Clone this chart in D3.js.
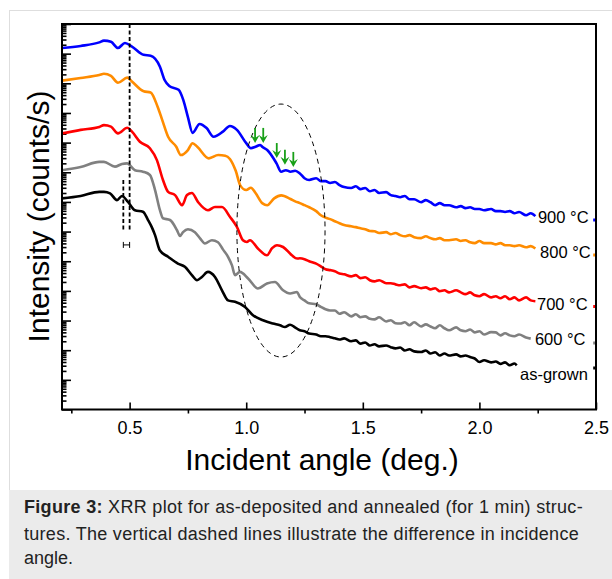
<!DOCTYPE html>
<html>
<head>
<meta charset="utf-8">
<script src="https://cdnjs.cloudflare.com/ajax/libs/d3/7.8.5/d3.min.js"></script>
<style>
    body { margin: 0; background: #fff; }
    svg { display: block; font-family: "Liberation Sans", Arial, Helvetica, sans-serif; }
</style>
</head>
<body>
<svg id="chart" width="612" height="579"></svg>
<script>
// [incident angle (deg.), log10 intensity (counts/s)]
var asGrown = [[0.21,7.12],[0.29,7.20],[0.37,7.34],[0.39,7.34],[0.416,7.29],[0.446,7.06],[0.467,7.20],[0.493,7.00],[0.523,6.72],[0.557,6.67],[0.579,6.39],[0.595,6.15],[0.609,5.88],[0.63,5.36],[0.665,5.15],[0.707,4.92],[0.737,4.81],[0.767,4.53],[0.789,4.36],[0.81,4.47],[0.836,4.64],[0.866,4.47],[0.896,4.02],[0.922,3.68],[0.952,3.63],[0.995,3.46],[1.029,3.18],[1.072,3.01],[1.115,2.90],[1.145,2.84],[1.166,2.78],[1.188,2.86],[1.209,2.77],
    [1.23,2.67],[1.25,2.64],[1.27,2.56],[1.30,2.53],[1.32,2.47],[1.34,2.47],[1.36,2.44],[1.38,2.40],[1.40,2.36],[1.42,2.40],[1.45,2.30],[1.47,2.33],[1.49,2.22],[1.51,2.26],[1.53,2.16],[1.55,2.20],[1.57,2.13],[1.60,2.16],[1.62,2.10],[1.64,2.06],[1.66,2.09],[1.68,1.99],[1.70,2.03],[1.72,1.96],[1.75,1.94],[1.77,1.99],[1.79,1.89],[1.81,1.93],[1.83,1.82],[1.85,1.89],[1.87,1.82],[1.90,1.86],[1.92,1.79],[1.94,1.82],[1.96,1.77],[1.98,1.72],[2.00,1.60],[2.02,1.66],[2.05,1.59],[2.07,1.62],[2.09,1.54],[2.11,1.59],[2.13,1.49],[2.15,1.55],[2.16,1.49]];

var t600 = [[0.21,8.07],[0.29,8.18],[0.37,8.35],[0.39,8.35],[0.437,8.19],[0.467,8.28],[0.489,8.30],[0.523,8.07],[0.557,8.02],[0.587,7.91],[0.609,7.40],[0.63,6.72],[0.643,6.45],[0.673,6.39],[0.703,6.05],[0.716,5.85],[0.729,5.98],[0.75,6.08],[0.78,5.98],[0.802,5.77],[0.823,5.60],[0.853,5.71],[0.879,5.64],[0.90,5.40],[0.922,5.15],[0.939,4.86],[0.952,4.53],[0.973,4.64],[1.008,4.42],[1.05,4.08],[1.089,4.25],[1.123,4.30],[1.158,4.02],[1.188,3.91],[1.218,3.96],
    [1.23,3.79],[1.25,3.68],[1.27,3.58],[1.30,3.55],[1.32,3.46],[1.34,3.38],[1.36,3.34],[1.38,3.34],[1.40,3.23],[1.42,3.28],[1.45,3.14],[1.47,3.21],[1.49,3.11],[1.51,3.14],[1.53,3.06],[1.55,3.04],[1.57,3.11],[1.60,2.97],[1.62,3.01],[1.64,2.91],[1.66,2.90],[1.68,2.94],[1.70,2.84],[1.72,2.94],[1.75,2.80],[1.77,2.87],[1.79,2.80],[1.81,2.74],[1.83,2.84],[1.85,2.74],[1.87,2.67],[1.90,2.77],[1.92,2.67],[1.94,2.64],[1.96,2.70],[1.98,2.60],[2.00,2.64],[2.02,2.53],[2.05,2.61],[2.07,2.60],[2.09,2.50],[2.11,2.57],[2.13,2.50],[2.15,2.47],[2.17,2.53],[2.20,2.43],[2.22,2.39]];

var t700 = [[0.21,9.31],[0.29,9.43],[0.37,9.53],[0.39,9.59],[0.42,9.54],[0.45,9.31],[0.49,9.50],[0.51,9.37],[0.544,9.03],[0.587,8.81],[0.617,8.41],[0.643,7.74],[0.665,7.34],[0.695,7.23],[0.725,6.89],[0.746,7.23],[0.767,7.30],[0.793,7.00],[0.836,6.72],[0.866,6.83],[0.896,6.83],[0.93,6.50],[0.96,6.16],[0.986,5.71],[1.003,5.65],[1.016,5.71],[1.05,5.43],[1.089,5.20],[1.111,5.44],[1.132,5.54],[1.158,5.48],[1.196,5.20],[1.218,5.09],
    [1.23,5.10],[1.25,5.07],[1.27,5.00],[1.30,4.92],[1.32,4.83],[1.34,4.73],[1.36,4.70],[1.38,4.66],[1.40,4.59],[1.42,4.56],[1.45,4.49],[1.47,4.53],[1.49,4.43],[1.51,4.46],[1.53,4.36],[1.55,4.32],[1.57,4.36],[1.60,4.26],[1.62,4.26],[1.64,4.22],[1.66,4.19],[1.68,4.22],[1.70,4.12],[1.72,4.16],[1.75,4.09],[1.77,4.12],[1.79,4.05],[1.81,4.09],[1.83,3.99],[1.85,4.02],[1.87,3.95],[1.90,4.02],[1.92,3.95],[1.94,3.89],[1.96,3.95],[1.98,3.85],[2.00,3.82],[2.02,3.89],[2.05,3.78],[2.07,3.82],[2.09,3.75],[2.11,3.82],[2.13,3.72],[2.15,3.78],[2.17,3.68],[2.20,3.78],[2.22,3.68],[2.24,3.65]];

var t800 = [[0.21,11.09],[0.29,11.18],[0.37,11.28],[0.39,11.32],[0.42,11.25],[0.45,11.02],[0.49,11.19],[0.51,11.06],[0.56,10.73],[0.59,10.69],[0.62,10.21],[0.64,9.76],[0.665,9.20],[0.70,8.86],[0.72,8.58],[0.75,8.75],[0.77,8.98],[0.79,8.86],[0.84,8.47],[0.88,8.58],[0.91,8.56],[0.93,8.45],[0.955,8.05],[0.975,7.55],[1.00,7.40],[1.02,7.48],[1.04,7.30],[1.07,6.95],[1.09,6.89],[1.12,7.12],[1.15,7.22],[1.19,7.10],[1.21,7.02],
    [1.23,6.96],[1.25,6.89],[1.27,6.82],[1.30,6.69],[1.32,6.55],[1.34,6.47],[1.36,6.42],[1.38,6.35],[1.40,6.28],[1.42,6.22],[1.45,6.18],[1.47,6.15],[1.49,6.11],[1.51,6.08],[1.53,6.02],[1.55,6.01],[1.57,5.95],[1.60,5.98],[1.62,5.91],[1.64,5.95],[1.66,5.88],[1.68,5.84],[1.70,5.88],[1.72,5.81],[1.75,5.78],[1.77,5.84],[1.79,5.78],[1.81,5.74],[1.83,5.78],[1.85,5.71],[1.87,5.71],[1.90,5.74],[1.92,5.68],[1.94,5.71],[1.96,5.64],[1.98,5.61],[2.00,5.68],[2.02,5.61],[2.05,5.61],[2.07,5.57],[2.09,5.61],[2.11,5.54],[2.13,5.54],[2.15,5.51],[2.17,5.54],[2.20,5.47],[2.22,5.51],[2.24,5.43]];

var t900 = [[0.21,12.19],[0.29,12.26],[0.37,12.38],[0.39,12.44],[0.42,12.40],[0.45,12.19],[0.48,12.36],[0.51,12.24],[0.56,11.96],[0.59,11.93],[0.63,11.56],[0.65,11.11],[0.67,10.91],[0.71,10.78],[0.73,10.44],[0.75,9.86],[0.77,9.33],[0.80,9.63],[0.83,9.49],[0.86,9.20],[0.90,9.37],[0.93,9.56],[0.96,9.43],[1.00,8.98],[1.02,8.81],[1.04,8.86],[1.06,8.92],[1.07,8.85],[1.09,8.75],[1.13,8.30],[1.15,8.02],[1.17,8.07],[1.19,8.02],[1.21,8.05],
    [1.23,7.96],[1.25,7.80],[1.27,7.74],[1.30,7.80],[1.32,7.70],[1.34,7.70],[1.36,7.64],[1.38,7.67],[1.40,7.57],[1.42,7.50],[1.45,7.47],[1.47,7.53],[1.49,7.43],[1.51,7.47],[1.53,7.36],[1.55,7.40],[1.57,7.30],[1.60,7.33],[1.62,7.23],[1.64,7.20],[1.66,7.16],[1.68,7.20],[1.70,7.09],[1.72,7.09],[1.75,6.99],[1.77,7.06],[1.79,6.99],[1.81,6.89],[1.83,6.96],[1.85,6.89],[1.87,6.89],[1.90,6.82],[1.92,6.86],[1.94,6.79],[1.96,6.82],[1.98,6.76],[2.00,6.76],[2.02,6.72],[2.05,6.76],[2.07,6.69],[2.09,6.69],[2.11,6.66],[2.13,6.69],[2.15,6.62],[2.17,6.66],[2.20,6.55],[2.22,6.62],[2.24,6.52]];

var seriesNames = ["as-grown", "600 °C", "700 °C", "800 °C", "900 °C"];
var seriesColors = ["#000000", "#808080", "#ff0000", "#ff8c00", "#0000ff"];
// where each name sits: [angle, log10 intensity of baseline]
var labelAnchors = [[2.174, 1.00], [2.238, 2.18], [2.247, 3.37], [2.26, 5.12], [2.251, 6.30]];
// little stubs cut off by the right frame
var stubLevels = [1.40, 2.24, 3.47, 5.21, 6.39];

var xMajor = [0.5, 1.0, 1.5, 2.0, 2.5];
var xMinor = [0.25, 0.75, 1.25, 1.75, 2.25];
var decades = d3.range(0, 14);

// annotations
var dashedLines = [[0.5, 5.99, 13], [0.473, 5.99, 7.74]];
var gapBar = [0.473, 0.5, 5.55];
var ellipseBox = {angles: [0.96, 1.338], logs: [1.77, 10.30]};
var arrowAngles = [1.038, 1.073, 1.131, 1.166, 1.202];
var arrowTips = [8.99, 8.99, 8.48, 8.25, 8.18];

var caption = [
    ["Figure 3:", " XRR plot for as-deposited and annealed (for 1 min) struc-"],
    ["", "tures. The vertical dashed lines illustrate the difference in incidence"],
    ["", "angle."]
];

var plot = {left: 62, right: 596, top: 24, bottom: 409.5};
var svg = d3.select("#chart");

var x = d3.scaleLinear().domain([0.21, 2.5]).range([plot.left, plot.right]);
var y = d3.scaleLog().domain([1, 1e13]).range([plot.bottom, plot.top]);
var yy = function(v) { return y(Math.pow(10, v)); };

// card + caption box
svg.append("rect").attr("x", 9.5).attr("y", 10.5).attr("width", 640).attr("height", 600)
    .attr("fill", "#fff").attr("stroke", "#dedede");
svg.append("rect").attr("x", 9).attr("y", 490).attr("width", 603).attr("height", 89)
    .attr("fill", "#ebebeb");

svg.append("clipPath").attr("id", "clip").append("rect")
    .attr("x", plot.left).attr("y", plot.top)
    .attr("width", plot.right - plot.left).attr("height", plot.bottom - plot.top);

// y axis, log ticks pointing inwards, no labels
var yMajor = decades.map(d => Math.pow(10, d));
var yMinor = [];
decades.slice(0, 13).forEach(d => {
    for (var k = 2; k < 10; k++) yMinor.push(k * Math.pow(10, d));
});

svg.append("g").attr("class", "axis")
    .attr("transform", `translate(${plot.left},0)`)
    .call(d3.axisLeft(y).tickValues(yMinor).tickSize(-4.5).tickFormat(""));
svg.append("g").attr("class", "axis")
    .attr("transform", `translate(${plot.left},0)`)
    .call(d3.axisLeft(y).tickValues(yMajor).tickSize(-9).tickFormat(""));

// x axis: majors inside with labels, minors outside
svg.append("g").attr("class", "axis xlab")
    .attr("transform", `translate(0,${plot.bottom})`)
    .call(d3.axisBottom(x).tickValues(xMajor).tickSize(-7).tickPadding(12).tickFormat(d3.format(".1f")));
svg.append("g").attr("class", "axis")
    .attr("transform", `translate(0,${plot.bottom})`)
    .call(d3.axisBottom(x).tickValues(xMinor).tickSize(4).tickFormat(""));

svg.selectAll(".axis .domain").remove();
svg.selectAll(".axis line").attr("stroke", "#000").attr("stroke-width", 1.6);
svg.selectAll(".xlab text").attr("font-size", 18).attr("fill", "#000")
    .attr("font-family", "Liberation Sans, Arial, sans-serif");

// curves
var line = d3.line()
    .x(d => x(d[0]))
    .y(d => yy(d[1]))
    .curve(d3.curveMonotoneX);

var allSeries = [asGrown, t600, t700, t800, t900];
var curves = svg.append("g").attr("clip-path", "url(#clip)");

curves.selectAll("path.curve")
    .data(allSeries)
    .enter()
    .append("path")
    .attr("class", "curve")
    .attr("d", line)
    .attr("fill", "none")
    .attr("stroke", (d, i) => seriesColors[i])
    .attr("stroke-width", 2.6)
    .attr("stroke-linejoin", "round");

curves.selectAll("line.stub")
    .data(stubLevels)
    .enter()
    .append("line")
    .attr("class", "stub")
    .attr("x1", x(2.488)).attr("x2", x(2.5))
    .attr("y1", d => yy(d)).attr("y2", d => yy(d))
    .attr("stroke", (d, i) => seriesColors[i])
    .attr("stroke-width", 3);

// names at the end of each curve
svg.selectAll("text.name")
    .data(seriesNames)
    .enter()
    .append("text")
    .attr("class", "name")
    .attr("x", (d, i) => x(labelAnchors[i][0]))
    .attr("y", (d, i) => yy(labelAnchors[i][1]))
    .attr("font-size", 16.5)
    .attr("fill", "#000")
    .text(d => d);

// vertical dashed lines and the small gap marker
svg.selectAll("line.vdash")
    .data(dashedLines)
    .enter()
    .append("line")
    .attr("class", "vdash")
    .attr("x1", d => x(d[0])).attr("x2", d => x(d[0]))
    .attr("y1", d => yy(d[2])).attr("y2", d => yy(d[1]))
    .attr("stroke", "#000").attr("stroke-width", 1.8)
    .attr("stroke-dasharray", "4,2.5");

var gy = yy(gapBar[2]);
svg.append("path")
    .attr("d", `M${x(gapBar[0])},${gy - 3}V${gy + 3}M${x(gapBar[0])},${gy}H${x(gapBar[1])}M${x(gapBar[1])},${gy - 3}V${gy + 3}`)
    .attr("fill", "none").attr("stroke", "#000").attr("stroke-width", 1);

// dashed ellipse round the fringes
var ex0 = x(ellipseBox.angles[0]), ex1 = x(ellipseBox.angles[1]);
var ey0 = yy(ellipseBox.logs[1]), ey1 = yy(ellipseBox.logs[0]);
svg.append("ellipse")
    .attr("cx", (ex0 + ex1) / 2).attr("cy", (ey0 + ey1) / 2)
    .attr("rx", (ex1 - ex0) / 2).attr("ry", (ey1 - ey0) / 2)
    .attr("fill", "none").attr("stroke", "#000").attr("stroke-width", 1)
    .attr("stroke-dasharray", "5,4");

// green arrows
svg.selectAll("g.arrow")
    .data(arrowAngles)
    .enter()
    .append("g")
    .attr("class", "arrow")
    .attr("transform", (d, i) => `translate(${x(d)},${yy(arrowTips[i])})`)
    .each(function() {
        var g = d3.select(this);
        g.append("line").attr("x1", 0).attr("x2", 0).attr("y1", -15).attr("y2", -4)
            .attr("stroke", "#18a018").attr("stroke-width", 1.8);
        g.append("path").attr("d", "M0,0L-4.5,-8L0,-5L4.5,-8Z")
            .attr("fill", "#18a018");
    });

// frame
svg.append("rect")
    .attr("x", plot.left).attr("y", plot.top)
    .attr("width", plot.right - plot.left).attr("height", plot.bottom - plot.top)
    .attr("fill", "none").attr("stroke", "#000").attr("stroke-width", 2);

// axis titles
svg.append("text")
    .attr("x", 322).attr("y", 470)
    .attr("text-anchor", "middle")
    .attr("font-size", 30)
    .text("Incident angle (deg.)");

svg.append("text")
    .attr("transform", "translate(49,216.5) rotate(-90)")
    .attr("text-anchor", "middle")
    .attr("font-size", 30)
    .text("Intensity (counts/s)");

// caption, first two lines stretched to the full width
var capY = [513, 539.5, 564];
var capWidth = [559, 555, null];
caption.forEach((c, i) => {
    var t = svg.append("text")
        .attr("x", 24).attr("y", capY[i])
        .attr("font-size", 18)
        .attr("fill", "#222");
    if (c[0]) t.append("tspan").attr("font-weight", "bold").text(c[0]);
    t.append("tspan").text(c[1]);
    if (capWidth[i]) {
        var natural = t.node().getComputedTextLength();
        var chars = (c[0] + c[1]).length;
        t.attr("letter-spacing", Math.max(0, (capWidth[i] - natural) / chars));
    }
});
</script>
</body>
</html>
